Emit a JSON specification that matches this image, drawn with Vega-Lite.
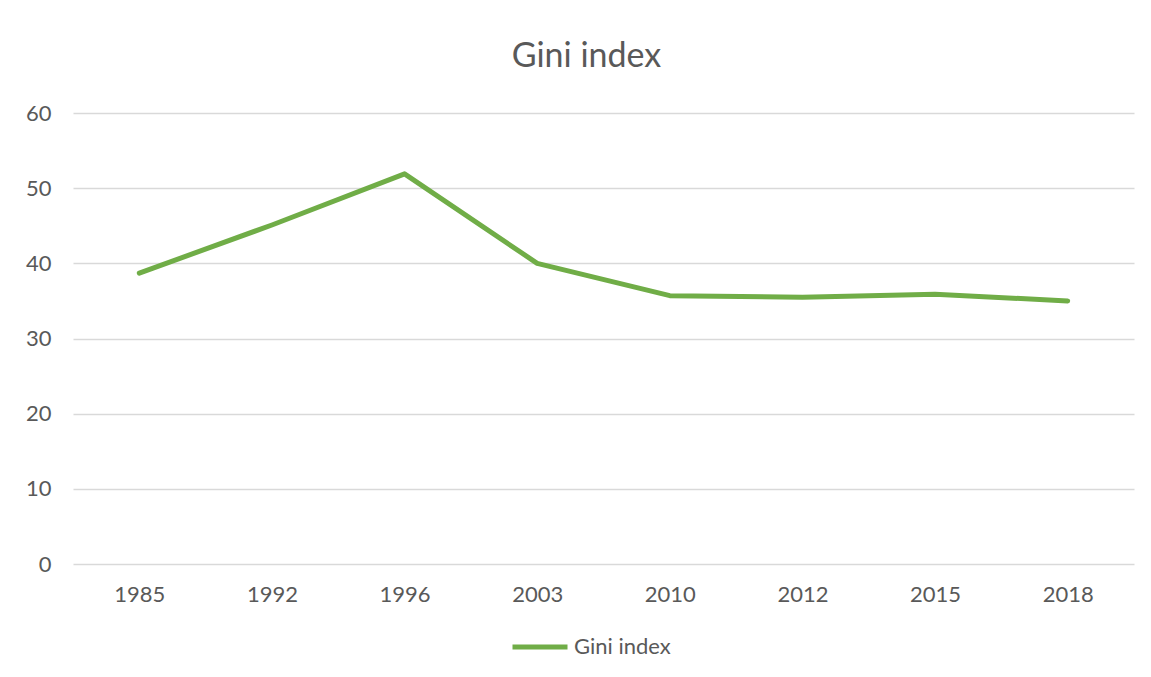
{
  "$schema": "https://vega.github.io/schema/vega-lite/v6.json",
  "autosize": {"type": "none"},
  "padding": {"left": 73, "top": 113, "right": 17, "bottom": 113},
  "width": 1061,
  "height": 451,
  "background": "#ffffff",
  "title": {"text": "Gini index", "anchor": "middle", "dx": -17, "offset": 28, "fontSize": 34, "font": "Lato", "fontWeight": "normal", "color": "#595959"},
  "config": {"view": {"stroke": null}, "font": "Lato"},
  "data": {"values": [
    {"year": "1985", "gini": 38.7, "series": "Gini index"},
    {"year": "1992", "gini": 45.1, "series": "Gini index"},
    {"year": "1996", "gini": 51.9, "series": "Gini index"},
    {"year": "2003", "gini": 40.0, "series": "Gini index"},
    {"year": "2010", "gini": 35.7, "series": "Gini index"},
    {"year": "2012", "gini": 35.5, "series": "Gini index"},
    {"year": "2015", "gini": 35.9, "series": "Gini index"},
    {"year": "2018", "gini": 35.0, "series": "Gini index"}
  ]},
  "mark": {"type": "line", "strokeWidth": 5, "strokeCap": "round", "strokeJoin": "round"},
  "encoding": {
    "x": {"field": "year", "type": "ordinal", "sort": null, "scale": {"type": "point", "padding": 0.5},
      "axis": {"title": null, "labelAngle": 0, "ticks": false, "domain": false, "labelPadding": 20, "labelFontSize": 22, "labelColor": "#595959", "labelFont": "Lato"}},
    "y": {"field": "gini", "type": "quantitative", "scale": {"domain": [0, 60]},
      "axis": {"title": null, "values": [0, 10, 20, 30, 40, 50, 60], "ticks": false, "domain": false, "labelPadding": 22, "labelFontSize": 22, "labelColor": "#595959", "labelFont": "Lato", "gridColor": "#d9d9d9", "gridWidth": 1.5}},
    "color": {"field": "series", "type": "nominal", "scale": {"range": ["#70ad47"]},
      "legend": {"title": null, "orient": "none", "legendX": 437, "legendY": 504, "symbolType": "stroke", "symbolSize": 3025, "symbolStrokeWidth": 5, "labelFontSize": 22, "labelColor": "#595959", "labelFont": "Lato", "labelOffset": 4}}
  }
}
